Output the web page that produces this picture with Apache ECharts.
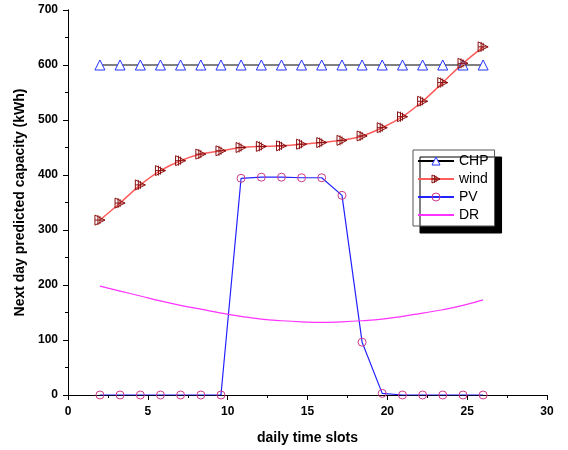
<!DOCTYPE html>
<html>
<head>
<meta charset="utf-8">
<script src="https://cdn.jsdelivr.net/npm/echarts@6/dist/echarts.min.js"></script>
<style>
  html, body { margin: 0; padding: 0; background: #fff; }
  #chart { width: 568px; height: 450px; }
</style>
</head>
<body>
<div id="chart"></div>
<script>
// time slot positions
var slots = [2, 3.26, 4.53, 5.79, 7.05, 8.32, 9.58, 10.84, 12.11, 13.37,
  14.63, 15.89, 17.16, 18.42, 19.68, 20.95, 22.21, 23.47, 24.74, 26];
var chp = [600, 600, 600, 600, 600, 600, 600, 600, 600, 600,
  600, 600, 600, 600, 600, 600, 600, 600, 600, 600];
var wind = [318, 349, 382, 408, 426, 438, 444, 450, 452, 453,
  456, 459, 463, 471, 486, 506, 534, 568, 603, 633];
var pv = [0, 0, 0, 0, 0, 0, 0, 394, 396, 396,
  395, 395, 363, 96, 3, 0, 0, 0, 0, 0];
var dr = [198, 189, 180, 171, 163, 156, 149, 143, 138, 135,
  133, 132, 133, 135, 138, 143, 149, 155, 163, 173];
var xTicks = { min: 0, max: 30, step: 5 };
var yTicks = { min: 0, max: 700, step: 100 };

function pairs(vals) {
  return slots.map(function (x, i) { return [x, vals[i]]; });
}

var font = "Liberation Sans, Arial, sans-serif";
var myChart = echarts.init(document.getElementById("chart"), null, { renderer: "canvas" });

var windSymbol = "path://M0,0 L10,5 L0,10 Z M3,0 L3,10 M5,1 L5,9 M0,5 L10,5";
var chpStyle = { color: "#fff", borderColor: "#2233ff", borderWidth: 1 };
var windStyle = { color: "rgba(255,255,255,0)", borderColor: "#8b1010", borderWidth: 1 };
var pvStyle = { color: "rgba(255,255,255,0)", borderColor: "#cc3a88", borderWidth: 1 };

var option = {
  animation: false,
  backgroundColor: "#fff",
  grid: { left: 68, top: 10, width: 479, height: 385 },
  legend: {
    orient: "vertical",
    left: 413,
    top: 150,
    itemWidth: 36,
    itemHeight: 10,
    itemGap: 4,
    padding: [4, 6, 4, 4],
    backgroundColor: "#fff",
    borderColor: "#555",
    borderWidth: 1,
    borderRadius: 0,
    shadowColor: "#000",
    shadowBlur: 0.01,
    shadowOffsetX: 7,
    shadowOffsetY: 7,
    textStyle: { fontFamily: font, fontSize: 14, color: "#000" },
    data: [
      { name: "CHP", itemStyle: chpStyle },
      { name: "wind", itemStyle: windStyle },
      { name: "PV", itemStyle: pvStyle },
      { name: "DR" }
    ]
  },
  xAxis: [
    {
      type: "value",
      min: xTicks.min, max: xTicks.max, interval: xTicks.step,
      name: "daily time slots",
      nameLocation: "middle",
      nameGap: 36,
      nameTextStyle: { fontFamily: font, fontSize: 14, fontWeight: "bold", color: "#000" },
      axisLine: { lineStyle: { color: "#000", width: 1 } },
      axisTick: { inside: false, length: 5, lineStyle: { color: "#000" } },
      minorTick: { show: true, splitNumber: 2, length: 3, lineStyle: { color: "#000" } },
      axisLabel: { fontFamily: font, fontSize: 12, fontWeight: "bold", color: "#000", margin: 11 },
      splitLine: { show: false }
    },
    {
      type: "value", position: "top",
      min: xTicks.min, max: xTicks.max, interval: xTicks.step,
      axisLine: { lineStyle: { color: "#000", width: 1 } },
      axisTick: { inside: true, length: 5, lineStyle: { color: "#000" } },
      minorTick: { show: true, splitNumber: 2, length: 3, lineStyle: { color: "#000" } },
      axisLabel: { show: false },
      splitLine: { show: false }
    }
  ],
  yAxis: [
    {
      type: "value",
      min: yTicks.min, max: yTicks.max, interval: yTicks.step,
      name: "Next day predicted capacity (kWh)",
      nameLocation: "middle",
      nameGap: 40,
      nameTextStyle: { fontFamily: font, fontSize: 14, fontWeight: "bold", color: "#000" },
      axisLine: { show: true, lineStyle: { color: "#000", width: 1 } },
      axisTick: { show: true, inside: false, length: 5, lineStyle: { color: "#000" } },
      minorTick: { show: true, splitNumber: 2, length: 3, lineStyle: { color: "#000" } },
      axisLabel: { fontFamily: font, fontSize: 12, fontWeight: "bold", color: "#000", margin: 10 },
      splitLine: { show: false }
    },
    {
      type: "value", position: "right",
      min: yTicks.min, max: yTicks.max, interval: yTicks.step,
      axisLine: { show: true, lineStyle: { color: "#000", width: 1 } },
      axisTick: { show: true, inside: true, length: 5, lineStyle: { color: "#000" } },
      minorTick: { show: true, splitNumber: 2, length: 3, lineStyle: { color: "#000" } },
      axisLabel: { show: false },
      splitLine: { show: false }
    }
  ],
  series: [
    {
      name: "CHP",
      type: "line",
      data: pairs(chp),
      symbol: "triangle",
      symbolSize: 10,
      itemStyle: chpStyle,
      lineStyle: { color: "#000", width: 1 }
    },
    {
      name: "wind",
      type: "line",
      data: pairs(wind),
      smooth: 0.3,
      symbol: windSymbol,
      symbolSize: 10,
      itemStyle: windStyle,
      lineStyle: { color: "#ff5c5c", width: 1.5 }
    },
    {
      name: "PV",
      type: "line",
      data: pairs(pv),
      symbol: "circle",
      symbolSize: 8,
      itemStyle: pvStyle,
      lineStyle: { color: "#2222ff", width: 1.2 }
    },
    {
      name: "DR",
      type: "line",
      data: pairs(dr),
      smooth: true,
      showSymbol: false,
      symbol: "circle",
      itemStyle: { color: "rgba(0,0,0,0)" },
      lineStyle: { color: "#ff33ff", width: 1.2 }
    }
  ]
};
myChart.setOption(option);
</script>
</body>
</html>
